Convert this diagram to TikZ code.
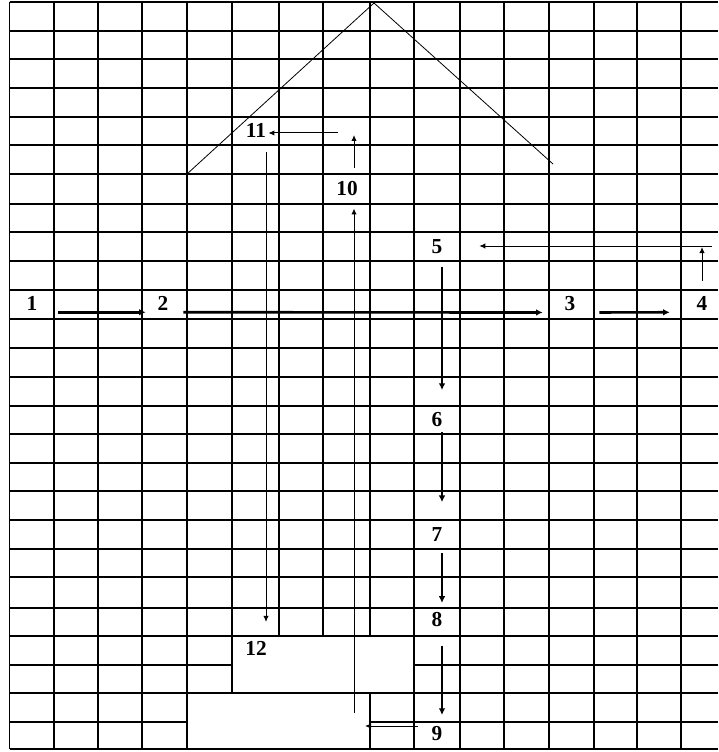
\documentclass[tikz,border=0pt]{standalone}
\usepackage{fontspec}
\setmainfont{Liberation Serif}
\usetikzlibrary{arrows.meta}

\begin{document}
\begin{tikzpicture}[x=0.75pt,y=-0.75pt,
rule/.style={line width=1.1pt},
roof/.style={line width=0.6pt},
num/.style={font=\bfseries\fontsize{16}{18}\selectfont,inner sep=1.5pt,anchor=base},
bigarrow/.style={-{Latex[length=5pt,width=5pt]},line width=2pt},
thinarrow/.style={-{Latex[length=4.5pt,width=4pt]},line width=0.75pt}]
  \useasboundingbox (0,0) rectangle (718,752);
  \foreach \y in {2,31,59,88,117,145,174,204,232,261,290,319,348,377,406,434,463,491,520,549,577,608,636,693,749}
    \draw[rule] (9.5,\y) -- (718,\y);
  \draw[rule] (9.5,665) -- (232,665) (414,665) -- (718,665);
  \draw[rule] (9.5,722) -- (187,722) (370,722) -- (718,722);
  \foreach \x in {9.5,54,98,142,187,414,460,504,549,594,637,681}
    \draw[rule] (\x,2) -- (\x,749);
  \draw[rule] (232,2) -- (232,693);
  \draw[rule] (279,2) -- (279,636) (323,2) -- (323,636);
  \draw[rule] (370,2) -- (370,636) (370,693) -- (370,749);
  \draw[roof] (187,174) -- (374,3) -- (553,164);

  \node[num] (n1) at (32,310) {1};
  \node[num] (n2) at (163,310) {2};
  \node[num] (n3) at (570,310) {3};
  \node[num] (n4) at (702,310) {4};
  \node[num] (n5) at (437,253) {5};
  \node[num] (n6) at (437,426) {6};
  \node[num] (n7) at (437,541) {7};
  \node[num] (n8) at (437,626) {8};
  \node[num] (n9) at (437,740) {9};
  \node[num] (n10) at (347,196) {10};
  \node[num] (n11) at (256,138) {11};
  \node[num] (n12) at (256,655) {12};
  \coordinate (turnfour) at (712,246);
  \coordinate (foot) at (354,726);
  \coordinate (turnten) at (354,133);

  \draw[bigarrow,shorten <=14pt,shorten >=7.3pt] (n1.south east) -- (n2.south west);
  \draw[bigarrow,shorten <=9.5pt,shorten >=14.8pt] (n2.south east) -- (n3.south west);
  \draw[bigarrow,shorten <=16.3pt,shorten >=18.5pt] (n3.south east) -- (n4.south west);
  \draw[thinarrow,shorten <=9.5pt,shorten >=0.75pt] (n4.north) -- (n4.north |- turnfour);
  \draw[thinarrow,shorten >=26pt] (turnfour) -- (n5.east |- turnfour);
  \draw[bigarrow,shorten <=8.3pt,shorten >=14.7pt] ([xshift=3.75pt]n5.south) -- ([xshift=3.75pt]n6.north);
  \draw[bigarrow,shorten <=3pt,shorten >=17pt] ([xshift=3.75pt]n6.south) -- ([xshift=3.75pt]n7.north);
  \draw[bigarrow,shorten <=7.5pt,shorten >=5pt] ([xshift=3.75pt]n7.south) -- ([xshift=3.75pt]n8.north);
  \draw[bigarrow,shorten <=12.8pt,shorten >=6.5pt] ([xshift=3.75pt]n8.south) -- ([xshift=3.75pt]n9.north);
  \draw[thinarrow,shorten <=8.8pt,shorten >=8.25pt] (n9.west |- foot) -- (foot);
  \draw[thinarrow,shorten <=9.75pt,shorten >=7.5pt] (foot) -- (foot |- n10.south);
  \draw[thinarrow,shorten <=8.7pt,shorten >=1.5pt] (n10.north -| turnten) -- (turnten);
  \draw[thinarrow,shorten <=12pt] (turnten) -- (n11.east |- turnten);
  \draw[thinarrow,shorten <=9pt,shorten >=12.5pt] ([xshift=7.5pt]n11.south) -- ([xshift=7.5pt]n12.north);
\end{tikzpicture}
\end{document}
